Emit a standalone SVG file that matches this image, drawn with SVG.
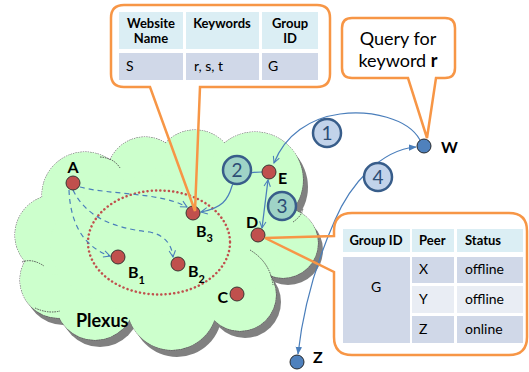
<svg xmlns="http://www.w3.org/2000/svg" width="529" height="372" viewBox="0 0 529 372">
<defs>
<style>
.cl{fill:#ccffcc}
.sh{fill:#808080}
.clo{fill:none;stroke:#505050;stroke-width:1;stroke-dasharray:1.5 1}
.node{fill:#c0504d;stroke:#2a2a2a;stroke-width:0.9}
.bnode{fill:#4f81bd;stroke:#1a1a1a;stroke-width:0.9}
.lbl{font-family:Lato,"Liberation Sans",sans-serif;font-weight:bold;font-size:16px;fill:#000}
.sub{font-size:11px}
.con{fill:none;stroke:#4a7ebb;stroke-width:1.2}
.dash{stroke-dasharray:5 4}
.num{stroke:#385d8a;stroke-width:2.5}
.nb{fill:#c2d3ea}
.nt{fill:#9fd3c6}
.ntxt{font-family:Lato,"Liberation Sans",sans-serif;font-size:19px;fill:#2c4d75;text-anchor:middle}
.call{fill:none;stroke:#f79646;stroke-width:2.5;stroke-linejoin:miter}
.hd{fill:#dbeef4}
.bd{fill:#d0d8e8}
.bl{fill:#e9edf4}
.th{font-family:Lato,"Liberation Sans",sans-serif;font-weight:bold;font-size:13px;fill:#000}
.td{font-family:Lato,"Liberation Sans",sans-serif;font-size:14px;fill:#000}
.q{font-family:Lato,"Liberation Sans",sans-serif;font-size:18px;fill:#000;text-anchor:middle}
</style>
<marker id="ov" viewBox="0 0 10 10" refX="9" refY="5" markerWidth="8" markerHeight="8" orient="auto-start-reverse" markerUnits="userSpaceOnUse">
<path d="M1,1 L9,5 L1,9" fill="none" stroke="#4a7ebb" stroke-width="1.3"/>
</marker>
<marker id="fa" viewBox="0 0 10 10" refX="9" refY="5" markerWidth="8" markerHeight="8" orient="auto-start-reverse" markerUnits="userSpaceOnUse">
<path d="M0,1 L10,5 L0,9 Z" fill="#4a7ebb"/>
</marker>
<g id="cloudshape">
<circle cx="85" cy="195" r="43"/>
<circle cx="145" cy="175" r="38"/>
<circle cx="195" cy="170" r="40"/>
<circle cx="255" cy="180" r="48"/>
<circle cx="283" cy="243" r="35"/>
<circle cx="240" cy="295" r="36"/>
<circle cx="172" cy="305" r="45"/>
<circle cx="95" cy="300" r="40"/>
<circle cx="58" cy="280" r="38"/>
<circle cx="55" cy="235" r="40"/>
<ellipse cx="165" cy="245" rx="115" ry="70"/>
</g>
</defs>

<g id="plexus-cloud">
<use href="#cloudshape" class="sh" transform="translate(5,7)"/>
<use href="#cloudshape" class="clo"/>
<use href="#cloudshape" class="cl"/>
<path class="clo" d="M250,250 Q270,262 273,285 M22,262 Q32,258 44,266 M35,308 Q48,314 60,311 M293,222 Q302,216 303,208 M100,157 Q114,158 120,168"/>
<text class="lbl" x="76" y="327" style="font-size:18px">Plexus</text>
</g>

<g id="group-ellipse">
<ellipse cx="159" cy="242.5" rx="71" ry="52" fill="none" stroke="#c0504d" stroke-width="2.5" stroke-dasharray="0.1 4.2" stroke-linecap="round"/>
</g>

<g id="connectors">
<path class="con dash" d="M80,187 C110,195 160,192 187,207" marker-end="url(#ov)"/>
<path class="con dash" d="M69,190 C70,215 78,245 110,256" marker-end="url(#ov)"/>
<path class="con dash" d="M73,190 C85,215 110,228 150,232 C168,236 172,248 173,257" marker-end="url(#ov)"/>
<path class="con" d="M262,172 C245,172 236,176 232,186 C228,200 222,208 201,212" marker-end="url(#ov)"/>
<path class="con" d="M268,180 C266,196 264,212 262,228" marker-start="url(#ov)" marker-end="url(#ov)"/>
<path class="con" d="M420,140 C408,118 370,110 340,114 C310,118 285,135 274,163" marker-end="url(#ov)"/>
<path class="con" d="M416,147 C380,150 350,185 335,220 C315,265 303,310 298,354" marker-start="url(#fa)" marker-end="url(#fa)"/>
</g>

<g id="step-1"><circle class="num nb" cx="327" cy="133" r="14"/><text class="ntxt" x="327" y="140">1</text></g>
<g id="step-2"><circle class="num nt" cx="237" cy="170" r="14"/><text class="ntxt" x="237" y="177">2</text></g>
<g id="step-3"><circle class="num nt" cx="282" cy="206" r="14"/><text class="ntxt" x="282" y="213">3</text></g>
<g id="step-4"><circle class="num nb" cx="378" cy="177" r="14"/><text class="ntxt" x="378" y="184">4</text></g>

<g id="node-A"><circle class="node" cx="73" cy="183" r="7"/><text class="lbl" x="73" y="173" text-anchor="middle">A</text></g>
<g id="node-B1"><circle class="node" cx="118" cy="257" r="7"/><text class="lbl" x="128" y="278">B<tspan class="sub" dy="6">1</tspan></text></g>
<g id="node-B2"><circle class="node" cx="178" cy="264" r="7"/><text class="lbl" x="188" y="277">B<tspan class="sub" dy="6">2</tspan></text></g>
<g id="node-B3"><circle class="node" cx="193" cy="213" r="7"/><text class="lbl" x="196" y="237">B<tspan class="sub" dy="5">3</tspan></text></g>
<g id="node-C"><circle class="node" cx="237" cy="294" r="7"/><text class="lbl" x="228" y="303" text-anchor="end">C</text></g>
<g id="node-D"><circle class="node" cx="258" cy="235" r="7"/><text class="lbl" x="252" y="228" text-anchor="middle">D</text></g>
<g id="node-E"><circle class="node" cx="269" cy="172" r="7"/><text class="lbl" x="278" y="184">E</text></g>
<g id="node-W"><circle class="bnode" cx="424" cy="146" r="7"/><text class="lbl" x="441" y="153">W</text></g>
<g id="node-Z"><circle class="bnode" cx="297" cy="362" r="7"/><text class="lbl" x="313" y="363">Z</text></g>

<g id="callout-website">
<path class="call" d="M124,5 H317 Q330,5 330,18 V74 Q330,87 317,87 H200 L195,211 L150,87 H124 Q111,87 111,74 V18 Q111,5 124,5 Z"/>
<rect class="hd" x="119" y="12" width="64" height="37"/>
<rect class="hd" x="186" y="12" width="73" height="37"/>
<rect class="hd" x="262" y="12" width="56" height="37"/>
<rect class="bd" x="119" y="53" width="64" height="27"/>
<rect class="bd" x="186" y="53" width="73" height="27"/>
<rect class="bd" x="262" y="53" width="56" height="27"/>
<text class="th" text-anchor="middle" x="151" y="28">Website</text>
<text class="th" text-anchor="middle" x="151" y="43">Name</text>
<text class="th" text-anchor="middle" x="222" y="28">Keywords</text>
<text class="th" text-anchor="middle" x="290" y="28">Group</text>
<text class="th" text-anchor="middle" x="290" y="43">ID</text>
<text class="td" x="126" y="71">S</text>
<text class="td" x="194" y="71">r, s, t</text>
<text class="td" x="268" y="71">G</text>
</g>

<g id="callout-query">
<path class="call" d="M352,18 H445 Q455,18 455,28 V68 Q455,78 445,78 H436 L427,138 L408,78 H352 Q342,78 342,68 V28 Q342,18 352,18 Z"/>
<text class="q" x="398" y="45">Query for</text>
<text class="q" x="398" y="67">keyword <tspan font-weight="bold">r</tspan></text>
</g>

<g id="callout-group">
<path class="call" d="M352,213 H509 Q527,213 527,231 V337 Q527,355 509,355 H352 Q334,355 334,337 V272 L265,238 L334,236 V231 Q334,213 352,213 Z"/>
<rect class="hd" x="343" y="229" width="67" height="23"/>
<rect class="hd" x="412" y="229" width="42" height="23"/>
<rect class="hd" x="457" y="229" width="66" height="23"/>
<rect class="bd" x="343" y="257" width="67" height="86"/>
<rect class="bd" x="412" y="257" width="42" height="26"/>
<rect class="bd" x="457" y="257" width="66" height="26"/>
<rect class="bl" x="412" y="286" width="42" height="27"/>
<rect class="bl" x="457" y="286" width="66" height="27"/>
<rect class="bd" x="412" y="316" width="42" height="27"/>
<rect class="bd" x="457" y="316" width="66" height="27"/>
<text class="th" text-anchor="middle" x="376" y="245">Group ID</text>
<text class="th" x="419" y="245">Peer</text>
<text class="th" x="465" y="245">Status</text>
<text class="td" text-anchor="middle" x="376" y="292">G</text>
<text class="td" x="419" y="274">X</text>
<text class="td" x="465" y="274">offline</text>
<text class="td" x="419" y="304">Y</text>
<text class="td" x="465" y="304">offline</text>
<text class="td" x="419" y="334">Z</text>
<text class="td" x="465" y="334">online</text>
</g>
</svg>
